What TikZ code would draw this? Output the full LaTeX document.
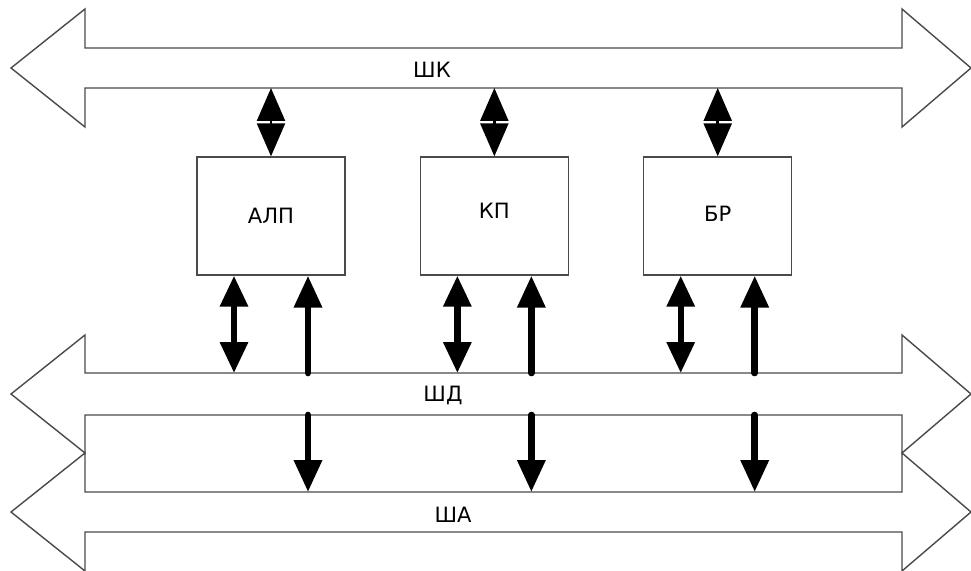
\documentclass[tikz,border=0pt]{standalone}
\usepackage{fontspec}
\setmainfont{DejaVu Sans}
\usetikzlibrary{arrows.meta, positioning, calc}
\definecolor{mLine}{HTML}{4A4A4A}

\begin{document}
\begin{tikzpicture}[x=0.02cm, y=-0.02cm,
      bus/.style={draw=mLine, line width=0.8pt, line join=miter},
      blk/.style={rectangle, draw=mLine, line width=0.8pt,
                  minimum width=2.96cm, minimum height=2.36cm,
                  font=\fontsize{12}{14}\selectfont},
      lbl/.style={draw=none, inner sep=1pt, font=\fontsize{12}{14}\selectfont},
      twoway/.style={{Triangle[length=6.6mm,width=5.6mm]}-{Triangle[length=6.6mm,width=5.6mm]},
                     line width=1.4pt},
      both/.style={{Triangle[length=6.2mm,width=5.4mm]}-{Triangle[length=6.2mm,width=5.4mm]},
                   line width=3.6pt},
      oneway/.style={-{Triangle[length=6.4mm,width=5.4mm]}, line width=3.8pt,
                     line cap=round}]
    \useasboundingbox (0,0) rectangle (971,571);

    % buses
    \draw[bus] (11,68) -- (85,9) -- (85,48) -- (902,48) -- (902,9) -- (971,68)
      -- (902,127) -- (902,88) -- (85,88) -- (85,127) -- cycle;
    \draw[bus] (11,394) -- (85,335) -- (85,373) -- (902,373) -- (902,335) -- (971,394)
      -- (902,453) -- (902,415) -- (85,415) -- (85,453) -- cycle;
    \draw[bus] (11,512) -- (85,453) -- (85,492) -- (902,492) -- (902,453) -- (971,512)
      -- (902,571) -- (902,532) -- (85,532) -- (85,571) -- cycle;

    \node[lbl] (shk) at (432,70)  {ШК};
    \node[lbl] (shd) at (443,395) {ШД};
    \node[lbl] (sha) at (453,515) {ША};

    \coordinate (shkB) at (0,88);
    \coordinate (shdT) at (0,373);
    \coordinate (shdB) at (0,415);
    \coordinate (shaT) at (0,492);

    % units
    \node[blk] (alu) at (271,216) {АЛП};
    \node[blk, right=1.48cm of alu] (kp) {\raisebox{6pt}{КП}};
    \node[blk, right=1.48cm of kp] (br) {\raisebox{3pt}{БР}};

    \foreach \u in {alu, kp, br} {
      \coordinate (\u-l) at ($(\u.south)+(-37,0)$);
      \coordinate (\u-r) at ($(\u.south)+(37,0)$);
      \draw[twoway] (\u.north |- shkB) -- (\u.north);
      \draw[both] (\u-l) -- (\u-l |- shdT);
      \draw[oneway] (\u-r |- shdT) -- (\u-r);
      \draw[oneway] (\u-r |- shdB) -- (\u-r |- shaT);
    }
  \end{tikzpicture}
\end{document}
